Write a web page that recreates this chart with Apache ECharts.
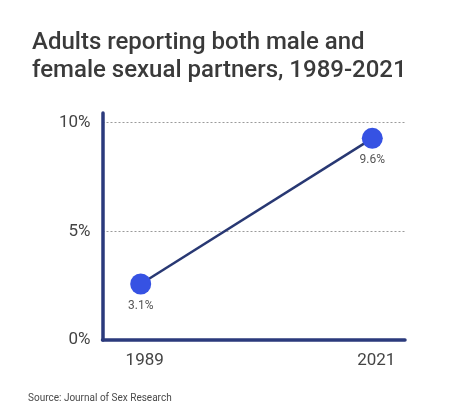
<!DOCTYPE html>
<html>
<head>
<meta charset="utf-8">
<script src="https://cdn.jsdelivr.net/npm/echarts@6/dist/echarts.min.js"></script>
<style>
  html, body { margin: 0; padding: 0; background: #fff; }
  #chart { width: 474px; height: 417px; }
</style>
</head>
<body>
<div id="chart"></div>
<script>
// ---- data ----
const titleText = 'Adults reporting both male and\nfemale sexual partners, 1989-2021';
const sourceText = 'Source: Journal of Sex Research';
const years = [1989, 2021];
const shares = [3.1, 9.6];          // percent
const yTickValues = [0, 5, 10];     // percent tick labels

const chart = echarts.init(document.getElementById('chart'), null, { renderer: 'canvas' });
const font = 'Roboto, "Noto Sans", sans-serif';
const navy = '#2b3a7c';

chart.setOption({
  animation: false,
  backgroundColor: '#ffffff',
  title: [
    {
      text: titleText,
      left: 27, top: 24,
      textStyle: { fontFamily: font, fontSize: 24, fontWeight: 500, color: '#3a3a3a', lineHeight: 28 }
    },
    {
      text: sourceText,
      left: 23, top: 388,
      textStyle: { fontFamily: font, fontSize: 10, fontWeight: 'normal', color: '#4a4a4a' }
    }
  ],
  grid: { left: 102.5, right: 69, top: 113, bottom: 77, containLabel: false },
  xAxis: {
    type: 'value',
    min: 1983.72, max: 2025.52,
    axisLine: { show: true, lineStyle: { color: navy, width: 3.5 } },
    axisTick: { show: false },
    splitLine: { show: false },
    axisLabel: {
      customValues: years,
      formatter: v => String(v),
      margin: 12,
      padding: [0, 0, 0, 8],
      fontFamily: font, fontSize: 17, color: '#444'
    }
  },
  yAxis: [
    {
      type: 'value',
      min: 0, max: 10.446,
      axisLine: { show: true, lineStyle: { color: navy, width: 3.5 } },
      axisTick: { show: false },
      axisLabel: {
        customValues: yTickValues,
        formatter: v => v + '%',
        margin: 12,
        fontFamily: font, fontSize: 17, color: '#444'
      },
      splitLine: {
        show: true, showMinLine: false, showMaxLine: false,
        lineStyle: { color: '#9a9a9a', type: [2, 2], width: 1 }
      },
      interval: 5
    },
    {
      // series placement scale (as drawn in the reference)
      type: 'value',
      min: 0.602, max: 10.73,
      show: false
    }
  ],
  series: [{
    type: 'line',
    yAxisIndex: 1,
    data: years.map((y, i) => [y, shares[i]]),
    symbol: 'circle',
    symbolSize: 21,
    lineStyle: { color: '#283873', width: 2.5 },
    itemStyle: { color: '#3652e3' },
    label: {
      show: true,
      position: 'bottom',
      distance: 5,
      formatter: p => p.value[1] + '%',
      fontFamily: font, fontSize: 12, color: '#555'
    },
    z: 3
  }]
});
</script>
</body>
</html>
